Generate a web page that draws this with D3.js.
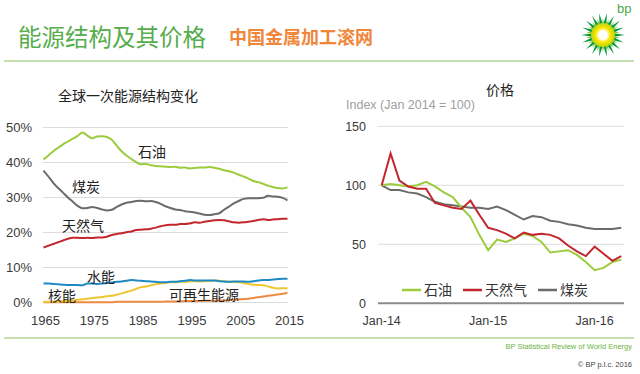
<!DOCTYPE html>
<html>
<head>
<meta charset="utf-8">
<script src="https://cdn.jsdelivr.net/npm/d3@7"></script>
<style>
  body { margin: 0; background: #fff; }
  text { font-family: "Liberation Sans", "Noto Sans CJK SC", sans-serif; }
</style>
</head>
<body>
<svg id="chart" width="640" height="374"></svg>
<script>
// ---- data: primary energy share (%), 1965-2015
let years = d3.range(1965, 2016);
let oil = [40.9, 42.0, 43.2, 44.2, 45.2, 46.0, 46.8, 47.6, 48.6, 47.7, 46.9, 47.4, 47.5, 47.3, 46.5, 44.8, 43.2, 42.0, 41.0, 40.1,
  39.5, 39.6, 39.2, 39.0, 38.9, 38.8, 38.7, 38.8, 38.5, 38.6, 38.3, 38.4, 38.6, 38.6, 38.7, 38.5, 38.2, 37.8, 37.5, 37.1,
  36.5, 36.0, 35.4, 34.7, 34.4, 33.9, 33.4, 33.0, 32.7, 32.6, 32.9];
let coal = [37.7, 36.0, 34.2, 32.7, 31.4, 30.0, 28.8, 27.6, 26.9, 27.0, 27.3, 27.0, 26.6, 26.3, 26.5, 27.3, 28.0, 28.5, 28.7, 29.0,
  29.1, 28.9, 29.0, 28.7, 28.2, 27.5, 27.0, 26.6, 26.4, 26.1, 25.9, 25.7, 25.4, 25.1, 25.0, 25.2, 25.5, 26.5, 27.4, 28.3,
  29.0, 29.6, 29.8, 29.8, 29.8, 29.9, 30.5, 30.3, 30.2, 29.9, 29.2];
let gas = [15.7, 16.2, 16.7, 17.2, 17.7, 18.2, 18.5, 18.5, 18.4, 18.5, 18.4, 18.6, 18.6, 18.8, 19.3, 19.6, 19.8, 20.1, 20.3, 20.7,
  20.8, 20.9, 21.1, 21.4, 21.8, 22.1, 22.2, 22.2, 22.4, 22.4, 22.6, 22.9, 22.8, 23.1, 23.3, 23.5, 23.6, 23.5, 23.2, 22.9,
  22.8, 22.9, 23.1, 23.3, 23.6, 23.8, 23.6, 23.7, 23.8, 23.9, 23.9];
let hydro = [5.4, 5.4, 5.3, 5.2, 5.1, 5.0, 5.0, 5.0, 4.9, 5.4, 5.4, 5.3, 5.4, 5.6, 5.7, 5.9, 6.0, 6.2, 6.4, 6.3,
  6.2, 6.1, 6.0, 5.9, 5.8, 5.8, 5.9, 5.9, 6.1, 6.2, 6.4, 6.3, 6.3, 6.3, 6.3, 6.3, 6.1, 6.0, 5.9, 6.0,
  6.0, 6.0, 5.9, 6.1, 6.3, 6.4, 6.4, 6.6, 6.7, 6.8, 6.8];
let nuclear = [0.2, 0.2, 0.3, 0.3, 0.4, 0.4, 0.6, 0.8, 0.9, 1.1, 1.3, 1.4, 1.6, 1.8, 1.9, 2.2, 2.6, 3.0, 3.4, 3.9,
  4.4, 4.6, 4.9, 5.2, 5.4, 5.6, 5.8, 5.8, 5.9, 5.9, 6.0, 6.1, 6.0, 6.1, 6.2, 6.2, 6.2, 6.1, 5.9, 5.9,
  5.8, 5.6, 5.3, 5.1, 5.0, 4.9, 4.6, 4.2, 4.0, 4.1, 4.1];
let renew = [0.1, 0.1, 0.1, 0.1, 0.1, 0.1, 0.1, 0.1, 0.1, 0.1, 0.1, 0.1, 0.1, 0.1, 0.1, 0.2, 0.2, 0.2, 0.2, 0.2,
  0.2, 0.2, 0.2, 0.2, 0.2, 0.3, 0.3, 0.3, 0.3, 0.4, 0.4, 0.4, 0.4, 0.5, 0.5, 0.5, 0.6, 0.6, 0.7, 0.8,
  0.9, 1.0, 1.1, 1.3, 1.5, 1.7, 1.9, 2.1, 2.3, 2.5, 2.8];
let shareTicks = [0, 10, 20, 30, 40, 50];
let yearTicks = [1965, 1975, 1985, 1995, 2005, 2015];

// ---- data: price index, monthly Jan 2014 - Apr 2016 (Jan 2014 = 100)
let months = d3.range(0, 28);
let oilPrice = [100, 101, 100, 99, 100, 103, 99, 94, 90, 81, 73, 58, 45, 54, 52, 55, 59, 57, 52, 43, 44, 45, 41, 35, 28, 30, 35, 37];
let gasPrice = [100, 127, 104, 99, 97, 97, 85, 83, 81, 80, 87, 75, 64, 62, 59, 55, 60, 58, 59, 58, 55, 49, 44, 40, 48, 42, 36, 40];
let coalPrice = [100, 96, 96, 94, 93, 90, 86, 84, 83, 82, 81, 81, 80, 82, 79, 75, 71, 74, 73, 70, 69, 67, 66, 64, 63, 63, 63, 64];
let priceTicks = [0, 50, 100, 150];
let monthTicks = [0, 12, 24];
let monthLabels = ["Jan-14", "Jan-15", "Jan-16"];

let oilColor = "#9ccb3b";
let gasColor = "#c4262e";
let coalColor = "#6b6b6b";
let hydroColor = "#1d8ac4";
let nuclearColor = "#f0c633";
let renewColor = "#ee8a42";
let axisText = "#3a3a3a";
let gridColor = "#dcdcdc";

let svg = d3.select("#chart");
svg.append("rect").attr("width", 640).attr("height", 374).attr("fill", "#fff");

// ---- header
svg.append("text")
  .attr("x", 18).attr("y", 46)
  .text("能源结构及其价格")
  .style("font-size", 23.5)
  .style("fill", "#56ad4c");
svg.append("text")
  .attr("x", 229).attr("y", 44)
  .text("中国金属加工滚网")
  .style("font-size", 18)
  .style("font-weight", "bold")
  .style("fill", "#f0863a");
svg.append("line")
  .attr("x1", 4).attr("x2", 634).attr("y1", 61).attr("y2", 61)
  .style("stroke", "#b3d494").style("stroke-width", 1.5);

// bp helios logo
let logo = svg.append("g").attr("transform", "translate(603,35)");
let grad = svg.append("defs").append("radialGradient").attr("id", "sun");
grad.append("stop").attr("offset", 0).attr("stop-color", "#ffffff");
grad.append("stop").attr("offset", 0.35).attr("stop-color", "#ffffff");
grad.append("stop").attr("offset", 0.6).attr("stop-color", "#ffe600");
grad.append("stop").attr("offset", 1).attr("stop-color", "#b6d410");
for (let i = 0; i < 18; i++) {
  let a = i / 18 * 2 * Math.PI;
  let w = Math.PI / 18;
  let pts = [[10 * Math.cos(a - w), 10 * Math.sin(a - w)], [22 * Math.cos(a), 22 * Math.sin(a)], [10 * Math.cos(a + w), 10 * Math.sin(a + w)]];
  logo.append("path").attr("d", d3.line()(pts) + "Z").attr("fill", "#009a3e");
  let b = a + w;
  let pts2 = [[9 * Math.cos(b - w), 9 * Math.sin(b - w)], [17 * Math.cos(b), 17 * Math.sin(b)], [9 * Math.cos(b + w), 9 * Math.sin(b + w)]];
  logo.append("path").attr("d", d3.line()(pts2) + "Z").attr("fill", "#8cc63e");
}
logo.append("circle").attr("r", 12).attr("fill", "url(#sun)");
svg.append("text")
  .attr("x", 617).attr("y", 13)
  .text("bp")
  .style("font-size", 13)
  .style("fill", "#4ea84a");

// ---- left chart: energy mix
let xL = d3.scaleLinear().domain([1965, 2015]).range([43.5, 287.5]);
let yL = d3.scaleLinear().domain([0, 50]).range([302.5, 127.5]);

svg.append("text")
  .attr("x", 58).attr("y", 101)
  .text("全球一次能源结构变化")
  .style("font-size", 14)
  .style("fill", "#222");

let gL = svg.append("g");
gL.selectAll(".gridL")
  .data(shareTicks)
  .enter().append("line")
  .attr("x1", 43).attr("x2", 288)
  .attr("y1", (d) => yL(d)).attr("y2", (d) => yL(d))
  .style("stroke", gridColor).style("stroke-width", 1);
gL.selectAll(".tickL")
  .data(shareTicks)
  .enter().append("text")
  .attr("x", 32).attr("y", (d) => yL(d) + 4.5)
  .text((d) => d + "%")
  .style("text-anchor", "end")
  .style("font-size", 13)
  .style("fill", axisText);
gL.selectAll(".yearL")
  .data(yearTicks)
  .enter().append("text")
  .attr("x", (d) => xL(d) + 2).attr("y", 325)
  .text((d) => d)
  .style("text-anchor", "middle")
  .style("font-size", 13)
  .style("fill", axisText);

let lineL = (vals) => d3.line()
  .x((d, i) => xL(years[i]))
  .y((d) => yL(d))
  .curve(d3.curveMonotoneX)(vals);

let series = [
  [renew, renewColor], [nuclear, nuclearColor], [hydro, hydroColor],
  [gas, gasColor], [coal, coalColor], [oil, oilColor]
];
for (let s of series) {
  gL.append("path")
    .attr("d", lineL(s[0]))
    .attr("fill", "none")
    .attr("stroke", s[1])
    .attr("stroke-width", 2);
}

let seriesLabels = [
  ["石油", 138, 157], ["煤炭", 72, 192], ["天然气", 62, 231],
  ["水能", 87, 282], ["核能", 48, 301], ["可再生能源", 169, 300]
];
for (let l of seriesLabels) {
  gL.append("text")
    .attr("x", l[1]).attr("y", l[2])
    .text(l[0])
    .style("font-size", 14)
    .style("fill", "#222");
}

// ---- right chart: prices
let xR = d3.scaleLinear().domain([0, 27]).range([381.7, 621.3]);
let yR = d3.scaleLinear().domain([0, 150]).range([303.3, 126.3]);

svg.append("text")
  .attr("x", 500).attr("y", 95)
  .text("价格")
  .style("text-anchor", "middle")
  .style("font-size", 14)
  .style("fill", "#222");
svg.append("text")
  .attr("x", 346).attr("y", 109)
  .text("Index (Jan 2014 = 100)")
  .style("font-size", 12.5)
  .style("fill", "#a0a0a0");

let gR = svg.append("g");
gR.selectAll(".gridR")
  .data(priceTicks.filter((d) => d > 0))
  .enter().append("line")
  .attr("x1", 378).attr("x2", 624)
  .attr("y1", (d) => yR(d)).attr("y2", (d) => yR(d))
  .style("stroke", gridColor).style("stroke-width", 1);
gR.append("line")
  .attr("x1", 378).attr("x2", 624)
  .attr("y1", yR(0)).attr("y2", yR(0))
  .style("stroke", "#8a8a8a").style("stroke-width", 2);
gR.selectAll(".tickR")
  .data(priceTicks)
  .enter().append("text")
  .attr("x", 366).attr("y", (d) => yR(d) + 4.5)
  .text((d) => d)
  .style("text-anchor", "end")
  .style("font-size", 12.5)
  .style("fill", axisText);
gR.selectAll(".monthR")
  .data(monthTicks)
  .enter().append("text")
  .attr("x", (d) => xR(d)).attr("y", 325)
  .text((d, i) => monthLabels[i])
  .style("text-anchor", "middle")
  .style("font-size", 12.5)
  .style("fill", axisText);

let lineR = d3.line()
  .x((d, i) => xR(months[i]))
  .y((d) => yR(d));
let priceSeries = [[coalPrice, coalColor], [oilPrice, oilColor], [gasPrice, gasColor]];
for (let s of priceSeries) {
  gR.append("path")
    .attr("d", lineR(s[0]))
    .attr("fill", "none")
    .attr("stroke", s[1])
    .attr("stroke-width", 2);
}

// legend
let legend = [["石油", oilColor, 402], ["天然气", gasColor, 463], ["煤炭", coalColor, 538]];
for (let l of legend) {
  gR.append("line")
    .attr("x1", l[2]).attr("x2", l[2] + 19)
    .attr("y1", 290).attr("y2", 290)
    .style("stroke", l[1]).style("stroke-width", 2.5);
  gR.append("text")
    .attr("x", l[2] + 22).attr("y", 295)
    .text(l[0])
    .style("font-size", 14)
    .style("fill", "#333");
}

// ---- footer
svg.append("line")
  .attr("x1", 4).attr("x2", 634).attr("y1", 338).attr("y2", 338)
  .style("stroke", "#b3d494").style("stroke-width", 1.5);
svg.append("text")
  .attr("x", 632).attr("y", 349)
  .text("BP Statistical Review of World Energy")
  .style("text-anchor", "end")
  .style("font-size", 7.5)
  .style("fill", "#6db33f");
svg.append("text")
  .attr("x", 632).attr("y", 367)
  .text("© BP p.l.c. 2016")
  .style("text-anchor", "end")
  .style("font-size", 7.5)
  .style("fill", "#444");
</script>
</body>
</html>
